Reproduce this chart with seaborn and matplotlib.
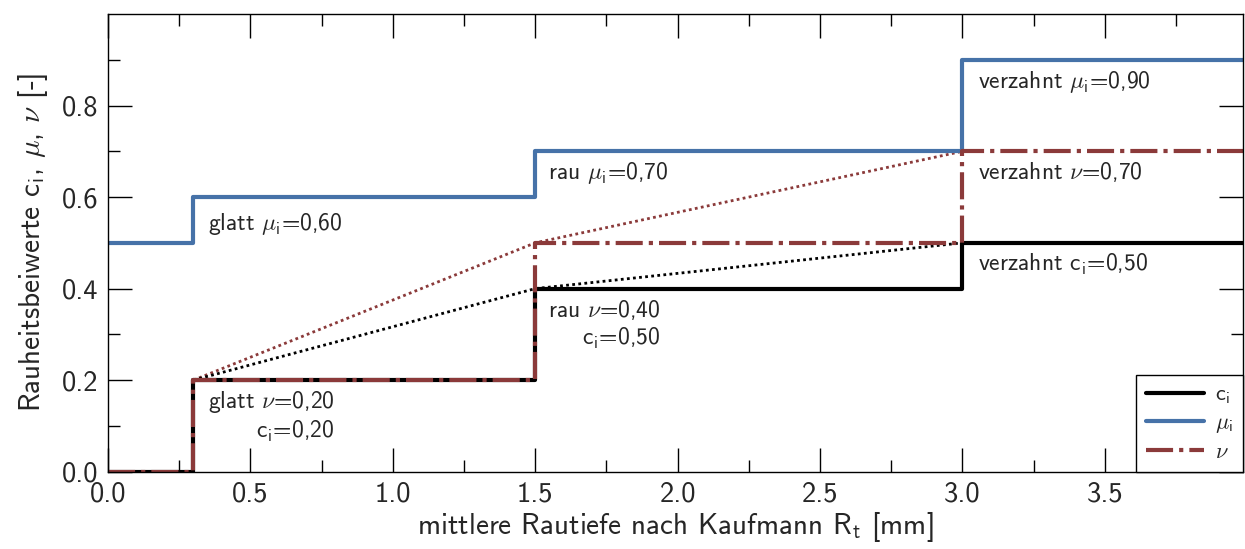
import matplotlib
matplotlib.use("Agg")
import matplotlib.pyplot as plt
import seaborn as sns
import pandas as pd
from matplotlib.lines import Line2D

sns.set_theme(style="ticks")
plt.rcParams['font.family'] = ['cmss10', 'DejaVu Sans']
plt.rcParams['mathtext.fontset'] = 'cm'
plt.rcParams['axes.unicode_minus'] = False
plt.rcParams['axes.formatter.use_mathtext'] = True

# data
x_steps = [0.0, 0.3, 1.5, 3.0, 4.0]
c_vals = [0.0, 0.2, 0.4, 0.5, 0.5]
mu_vals = [0.5, 0.6, 0.7, 0.9, 0.9]
nu_vals = [0.0, 0.2, 0.5, 0.7, 0.7]
x_trend = [0.3, 1.5, 3.0]
c_trend = [0.2, 0.4, 0.5]
nu_trend = [0.2, 0.5, 0.7]

annotations = [
    (0.35, 0.57, r"glatt $\mu_{\mathsf{i}}$=0,60"),
    (1.545, 0.68, r"rau $\mu_{\mathsf{i}}$=0,70"),
    (3.055, 0.88, r"verzahnt $\mu_{\mathsf{i}}$=0,90"),
    (3.055, 0.68, r"verzahnt $\nu$=0,70"),
    (3.055, 0.48, r"verzahnt c$_{\mathsf{i}}$=0,50"),
    (1.545, 0.38, "rau $\\nu$=0,40\nc$_{\\mathsf{i}}$=0,50"),
    (0.35, 0.18, "glatt $\\nu$=0,20\nc$_{\\mathsf{i}}$=0,20"),
]

BLUE = "#4672A8"
RED = "#8B3A3A"
DASHDOT = (0, (6.5, 1.45, 1, 1.45))

df = pd.DataFrame({"x": x_steps, "c": c_vals, "mu": mu_vals, "nu": nu_vals})
dft = pd.DataFrame({"x": x_trend, "c": c_trend, "nu": nu_trend})

fig = plt.figure(figsize=(12.45, 5.49), dpi=100)
ax = fig.add_axes([0.0867, 0.1408, 0.9117, 0.8337])

sns.lineplot(data=dft, x="x", y="nu", ax=ax, color=RED, lw=2.0, linestyle=(0, (1, 1.2)), estimator=None)
sns.lineplot(data=dft, x="x", y="c", ax=ax, color="black", lw=2.0, linestyle=(0, (1, 1.2)), estimator=None)
sns.lineplot(data=df, x="x", y="c", ax=ax, color="black", lw=3, drawstyle="steps-post", estimator=None)
sns.lineplot(data=df, x="x", y="mu", ax=ax, color=BLUE, lw=3, drawstyle="steps-post", estimator=None)
sns.lineplot(data=df, x="x", y="nu", ax=ax, color=RED, lw=3, drawstyle="steps-post", linestyle=DASHDOT, estimator=None)

for xa, ya, txt in annotations:
    ax.text(xa, ya, txt, ha="left", va="top", multialignment="right", fontsize=17, linespacing=1.2)

ax.set_xlim(0, 3.985)
ax.set_ylim(0, 1.0)
ax.set_xticks([0, 0.5, 1.0, 1.5, 2.0, 2.5, 3.0, 3.5])
ax.set_xticks([0.25, 0.75, 1.25, 1.75, 2.25, 2.75, 3.25, 3.75], minor=True)
ax.set_yticks([0, 0.2, 0.4, 0.6, 0.8])
ax.set_yticks([0.1, 0.3, 0.5, 0.7, 0.9], minor=True)
ax.set_xticklabels(["0.0", "0.5", "1.0", "1.5", "2.0", "2.5", "3.0", "3.5"])
ax.set_yticklabels(["0.0", "0.2", "0.4", "0.6", "0.8"])
ax.tick_params(which="both", direction="in", top=True, right=True, width=1.0, color="black", labelsize=20.5)
ax.tick_params(which="major", length=17, pad=7)
ax.tick_params(which="minor", length=8.5)
for s in ax.spines.values():
    s.set_linewidth(1.0)
    s.set_color("black")

ax.set_xlabel(r"mittlere Rautiefe nach Kaufmann R$_{\mathsf{t}}$ [mm]", fontsize=21, labelpad=2)
ax.set_ylabel(r"Rauheitsbeiwerte c$_{\mathsf{i}}$, $\mu$, $\nu$ [-]", fontsize=21, labelpad=8)

handles = [
    Line2D([], [], color="black", lw=3),
    Line2D([], [], color=BLUE, lw=3),
    Line2D([], [], color=RED, lw=3, linestyle=DASHDOT),
]
labels = [r"c$_{\mathsf{i}}$", r"$\mu_{\mathsf{i}}$", r"$\nu$"]
leg = ax.legend(handles, labels, loc="lower right", fontsize=16, frameon=True, fancybox=False,
                edgecolor="black", borderaxespad=0, handlelength=2.6, handletextpad=0.5,
                labelspacing=0.3, borderpad=0.45)
leg.get_frame().set_linewidth(1.0)
leg.get_frame().set_alpha(1)

fig.savefig("out.png", dpi=100)
